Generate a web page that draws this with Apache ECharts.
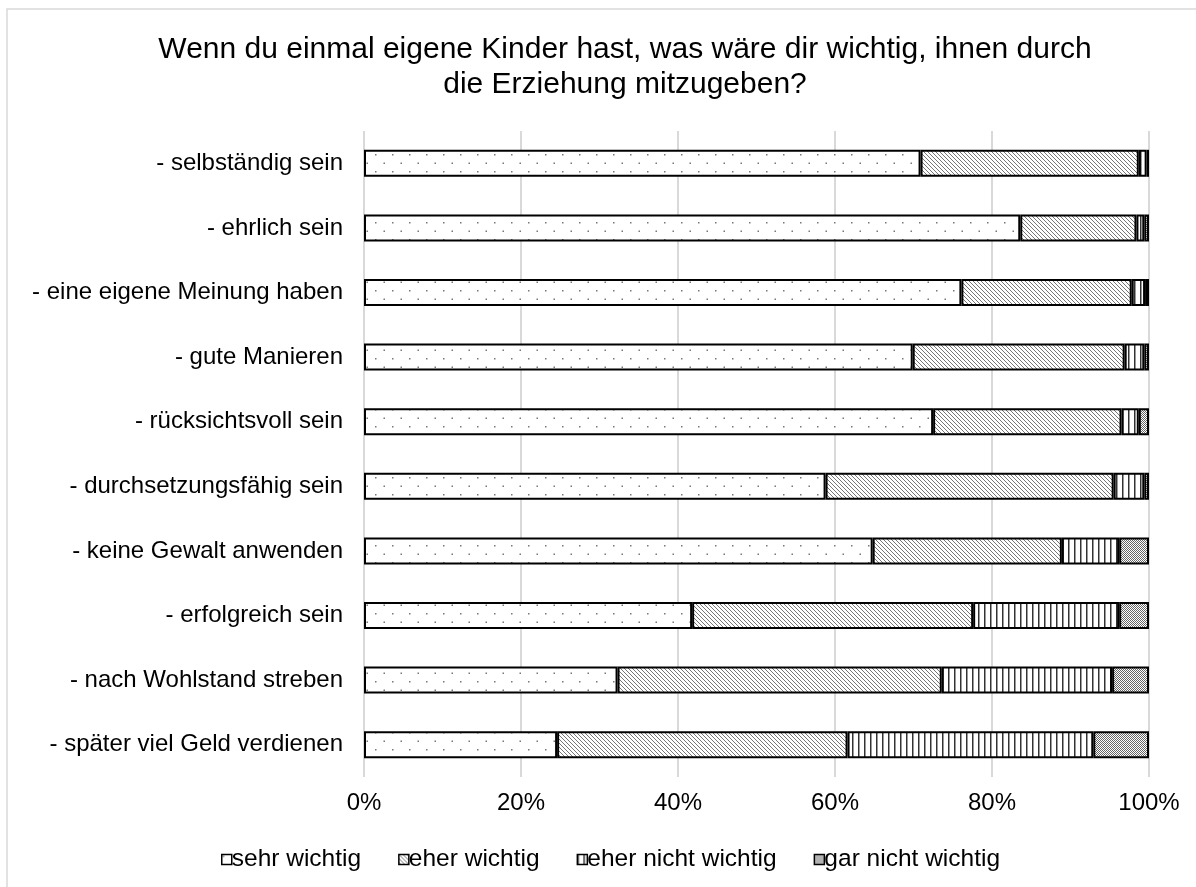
<!DOCTYPE html>
<html lang="de">
<head>
<meta charset="UTF-8">
<title>Erziehung</title>
<script src="https://cdn.jsdelivr.net/npm/echarts@6/dist/echarts.min.js"></script>
<style>
  * { margin: 0; padding: 0 }
  html, body { width: 100%; height: 100%; background: #fff; }
  #main { width: 1196px; height: 887px; }
</style>
</head>
<body>
<div id="main"></div>
<script type="text/javascript">
var categories = [
  '- selbständig sein',
  '- ehrlich sein',
  '- eine eigene Meinung haben',
  '- gute Manieren',
  '- rücksichtsvoll sein',
  '- durchsetzungsfähig sein',
  '- keine Gewalt anwenden',
  '- erfolgreich sein',
  '- nach Wohlstand streben',
  '- später viel Geld verdienen'
];
var seriesNames = ['sehr wichtig', 'eher wichtig', 'eher nicht wichtig', 'gar nicht wichtig'];
var sehrWichtig      = [70.9, 83.6, 76.1, 69.9, 72.5, 58.8, 64.8, 41.8, 32.3, 24.6];
var eherWichtig      = [27.8, 14.8, 21.7, 27.0, 24.0, 36.7, 24.1, 35.8, 41.3, 37.0];
var eherNichtWichtig = [1.0, 1.0, 1.7, 2.5, 2.2, 3.9, 7.3, 18.6, 21.7, 31.3];
var garNichtWichtig  = [0.3, 0.6, 0.5, 0.6, 1.3, 0.6, 3.8, 3.8, 4.7, 7.1];
var xTicks = [0, 20, 40, 60, 80, 100];

var FONT = '"Liberation Sans", Arial, sans-serif';

// kleine Muster-Kacheln wie im Excel-Original
function tile(w, h, draw) {
  var c = document.createElement('canvas');
  c.width = w; c.height = h;
  var ctx = c.getContext('2d');
  ctx.fillStyle = '#fff';
  ctx.fillRect(0, 0, w, h);
  draw(ctx);
  return { image: c, repeat: 'repeat' };
}
var dots = tile(17, 17, function (ctx) {
  ctx.fillStyle = '#777';
  ctx.fillRect(1, 1, 1.5, 1.5);
  ctx.fillRect(9.5, 9.5, 1.5, 1.5);
});
var diag = tile(4, 4, function (ctx) {
  ctx.strokeStyle = '#777';
  ctx.lineWidth = 1;
  ctx.beginPath();
  ctx.moveTo(-1, -1); ctx.lineTo(5, 5);
  ctx.moveTo(-1, 3); ctx.lineTo(1, 5);
  ctx.moveTo(3, -1); ctx.lineTo(5, 1);
  ctx.stroke();
});
var vert = tile(6, 2, function (ctx) {
  ctx.fillStyle = '#333';
  ctx.fillRect(0, 0, 1, 2);
  ctx.fillStyle = '#999';
  ctx.fillRect(1, 0, 1, 2);
});
var checker = tile(2, 2, function (ctx) {
  ctx.fillStyle = '#666';
  ctx.fillRect(0, 0, 1, 1);
  ctx.fillRect(1, 1, 1, 1);
});
var patterns = [dots, diag, vert, checker];
var values = [sehrWichtig, eherWichtig, eherNichtWichtig, garNichtWichtig];

var myChart = echarts.init(document.getElementById('main'));

var option = {
  backgroundColor: '#fff',
  animation: false,
  textStyle: { fontFamily: FONT },
  title: {
    text: 'Wenn du einmal eigene Kinder hast, was wäre dir wichtig, ihnen durch\ndie Erziehung mitzugeben?',
    left: 620,
    textAlign: 'center',
    top: 27,
    textStyle: {
      fontFamily: FONT,
      fontSize: 30,
      fontWeight: 'normal',
      color: '#000',
      lineHeight: 35,
      align: 'center'
    }
  },
  legend: {
    left: 216,
    top: 842,
    itemWidth: 10,
    itemHeight: 10,
    itemGap: 37,
    icon: 'rect',
    data: seriesNames,
    itemStyle: { borderColor: '#000', borderWidth: 1.5 },
    textStyle: { fontFamily: FONT, fontSize: 24.5, color: '#000', padding: [0, 0, 0, -5] }
  },
  graphic: [{
    type: 'rect',
    shape: { x: 7, y: 9, width: 1300, height: 1000 },
    style: { fill: 'none', stroke: '#d9d9d9', lineWidth: 1.5 },
    silent: true
  }],
  grid: { left: 364, right: 47, top: 131, bottom: 110 },
  xAxis: {
    type: 'value',
    min: xTicks[0],
    max: xTicks[xTicks.length - 1],
    interval: 20,
    axisLine: { show: false },
    axisTick: { show: false },
    splitLine: { lineStyle: { color: '#d9d9d9', width: 2 } },
    axisLabel: {
      formatter: '{value}%',
      fontFamily: FONT,
      fontSize: 24,
      color: '#000',
      margin: 14
    }
  },
  yAxis: {
    type: 'category',
    inverse: true,
    data: categories,
    axisLine: { show: false },
    axisTick: { show: false },
    axisLabel: { fontFamily: FONT, fontSize: 24, color: '#000', margin: 21 }
  },
  series: seriesNames.map(function (name, i) {
    return {
      name: name,
      type: 'bar',
      stack: 'total',
      barWidth: 27,
      data: values[i],
      itemStyle: {
        color: patterns[i],
        borderColor: '#000',
        borderWidth: 2
      },
      emphasis: { disabled: true }
    };
  })
};

myChart.setOption(option);
</script>
</body>
</html>
